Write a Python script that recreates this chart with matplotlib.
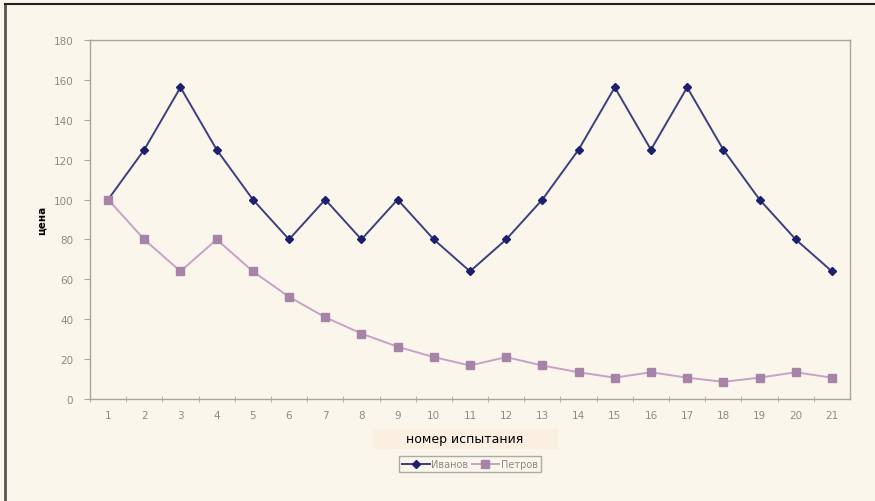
import matplotlib.pyplot as plt
from matplotlib.lines import Line2D
from matplotlib.patches import Rectangle
from matplotlib.ticker import FixedLocator

plt.rc("font", family="DejaVu Sans")

trials = list(range(1, 22))
ivanov = [100, 125, 156.25, 125, 100, 80, 100, 80, 100, 80, 64,
          80, 100, 125, 156.25, 125, 156.25, 125, 100, 80, 64]
petrov = [100, 80, 64, 80, 64, 51.2, 41, 32.8, 26.2, 21, 16.8,
          21, 16.8, 13.4, 10.7, 13.4, 10.7, 8.6, 10.7, 13.4, 10.7]
yticks = [0, 20, 40, 60, 80, 100, 120, 140, 160, 180]

bg = "#faf6ec"
axis_grey = "#a9a59c"
tick_grey = "#8c8a86"
navy = "#1c1f6e"
navy_line = "#3b3f7e"
mauve = "#a883a8"
mauve_line = "#c7a2c6"

W, H = 875, 502
fig = plt.figure(figsize=(W / 100, H / 100), dpi=100, facecolor=bg)
ax = fig.add_axes([90 / W, 1 - 400 / H, 760 / W, 359 / H])
ax.set_facecolor(bg)

ax.plot(trials, ivanov, color=navy_line, lw=1.4, marker="D", ms=4.5,
        mfc=navy, mec=navy, zorder=3)
ax.plot(trials, petrov, color=mauve_line, lw=1.4, marker="s", ms=5.5,
        mfc=mauve, mec=mauve, zorder=3)

ax.set_xlim(0.5, 21.5)
ax.set_ylim(0, 180)
ax.set_yticks(yticks)
ax.set_xticks(trials)
ax.xaxis.set_minor_locator(FixedLocator([t + 0.5 for t in range(0, 21)]))
ax.tick_params(axis="x", which="major", length=0, pad=8,
               labelsize=7.5, labelcolor=tick_grey)
ax.tick_params(axis="x", which="minor", length=4, direction="inout",
               color=axis_grey)
ax.tick_params(axis="y", length=4, direction="out", color=axis_grey,
               labelsize=7.5, labelcolor=tick_grey, pad=8)
for side in ax.spines.values():
    side.set_color(axis_grey)
    side.set_linewidth(1.0)

ax.set_ylabel("цена", fontsize=7.5, fontweight="bold", labelpad=5)

# axis title with its light background strip
fig.add_artist(Rectangle((373 / W, 1 - 450 / H), 185 / W, 20 / H,
                         transform=fig.transFigure, fc="#fbefe2", ec="none"))
fig.text(465 / W, 1 - 440 / H, "номер испытания", fontsize=9,
         ha="center", va="center")

handles = [
    Line2D([], [], color=navy_line, lw=1.4, marker="D", ms=4.5, mfc=navy, mec=navy),
    Line2D([], [], color=mauve_line, lw=1.4, marker="s", ms=5.5, mfc=mauve, mec=mauve),
]
leg = fig.legend(handles, ["Иванов", "Петров"], loc="center",
                 bbox_to_anchor=(470 / W, 1 - 465 / H), ncol=2,
                 fontsize=7, frameon=True, fancybox=False, handlelength=2.8,
                 columnspacing=0.3, handletextpad=0.2, borderpad=0.35)
leg.get_frame().set_edgecolor("#9a978f")
leg.get_frame().set_facecolor(bg)
for txt in leg.get_texts():
    txt.set_color(tick_grey)

# dark frame on the left and top edges of the figure
fig.add_artist(Line2D([5 / W, 5 / W], [0, 1 - 5 / H],
                      transform=fig.transFigure, color="#555555", lw=2))
fig.add_artist(Line2D([5 / W, 1], [1 - 5 / H, 1 - 5 / H],
                      transform=fig.transFigure, color="#222222", lw=1.5))

fig.savefig("out.png", dpi=100, facecolor=bg)
